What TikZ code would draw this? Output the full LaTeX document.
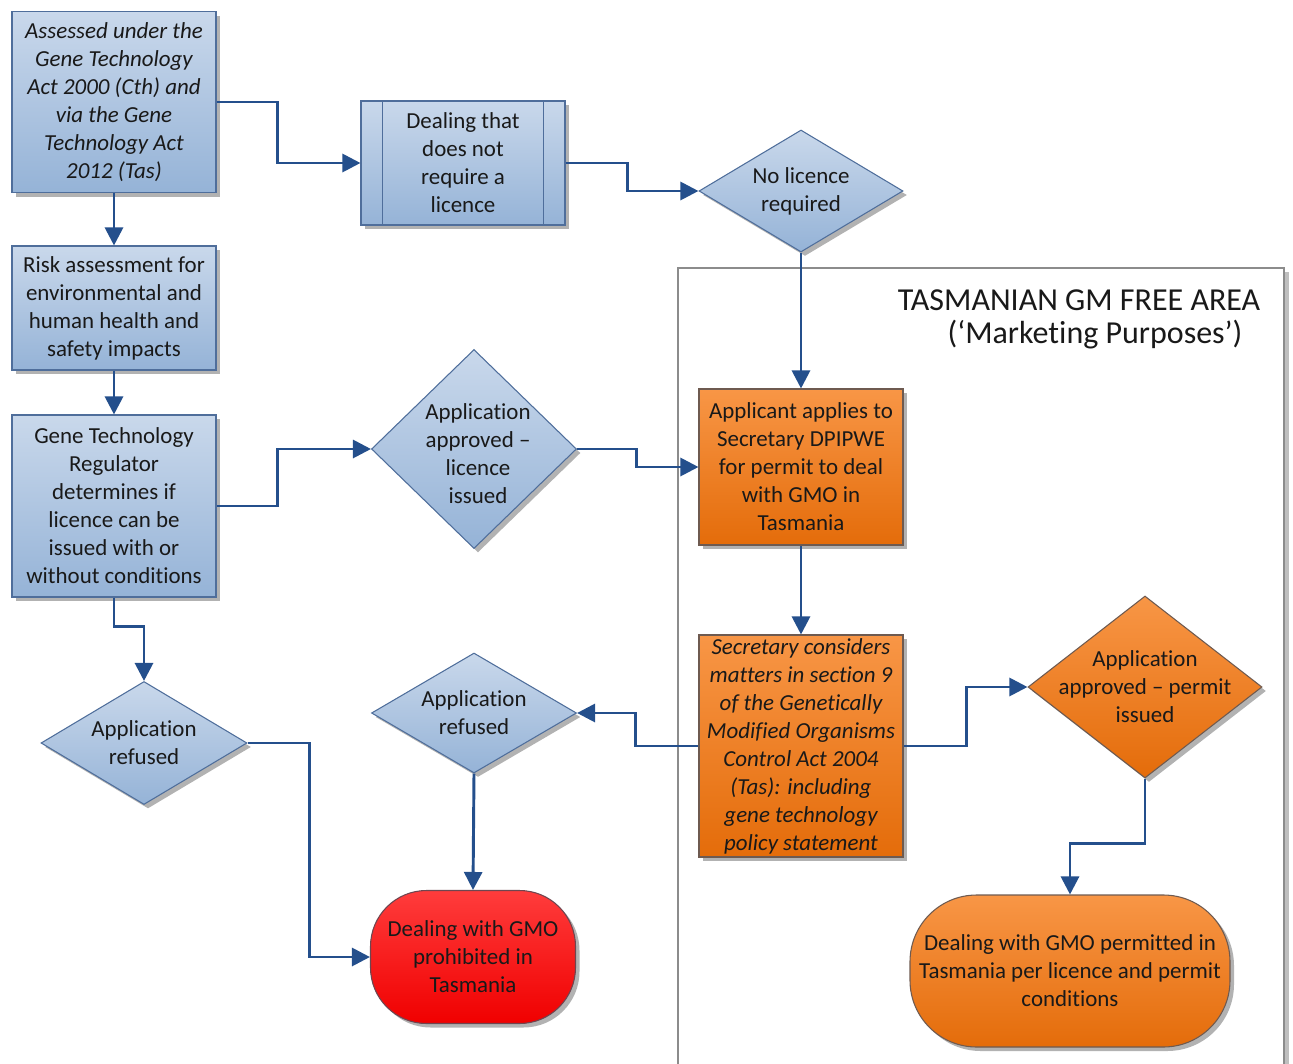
\documentclass[tikz,border=0pt]{standalone}
\usepackage{fontspec}
\setmainfont[Ligatures=NoCommon,RawFeature=-liga]{Carlito}
\usetikzlibrary{shapes.geometric,shadows,arrows.meta,calc}
\definecolor{bluetop}{RGB}{201,216,235}
\definecolor{bluebot}{RGB}{149,179,215}
\definecolor{blueborder}{RGB}{79,110,155}
\definecolor{orangetop}{RGB}{248,150,70}
\definecolor{orangebot}{RGB}{228,108,10}
\definecolor{orangeborder}{RGB}{110,90,80}
\definecolor{redtop}{RGB}{255,60,60}
\definecolor{redbot}{RGB}{240,0,0}
\definecolor{redborder}{RGB}{110,70,80}
\definecolor{arrowblue}{RGB}{36,79,140}
\definecolor{framegray}{RGB}{140,140,140}
\begin{document}
\begin{tikzpicture}[x=0.75pt,y=-0.75pt,
  shd/.style={drop shadow={shadow xshift=3pt,shadow yshift=-3pt,fill=black,opacity=0.3}},
  bluebox/.style={shape=rectangle,draw=blueborder,line width=0.8pt,top color=bluetop,bottom color=bluebot,shd,inner sep=0pt},
  bluediam/.style={shape=diamond,draw=blueborder,line width=0.8pt,top color=bluetop,bottom color=bluebot,shd,inner sep=0pt},
  orangebox/.style={shape=rectangle,draw=orangeborder,line width=0.8pt,top color=orangetop,bottom color=orangebot,shd,inner sep=0pt},
  orangediam/.style={shape=diamond,draw=orangeborder,line width=0.8pt,top color=orangetop,bottom color=orangebot,shd,inner sep=0pt},
  txt/.style={align=center,font=\fontsize{17.2}{21}\selectfont,text=black!90,inner sep=0pt},
  conn/.style={draw=arrowblue,line width=2.2pt,-{Triangle[length=13.5pt,width=13.5pt]}},
]
\useasboundingbox (0,0) rectangle (1293,1064);

% frame
\draw[black!25,line width=2.5pt] (1287,272) -- (1287,1064);
\draw[framegray,line width=0.8pt] (678,1064) -- (678,268) -- (1284,268) -- (1284,1064);
\node[txt,font=\fontsize{24}{28}\selectfont] (title1) at (1079,300) {TASMANIAN GM FREE AREA};
\node[txt,font=\fontsize{24}{28}\selectfont] (title2) at (1095,335) {(‘Marketing Purposes’)};

% left column
\node[bluebox,minimum width=204*0.75pt,minimum height=181*0.75pt] (a) at (114,102) {};
\node[txt,font=\fontsize{17.2}{21}\selectfont\itshape] (at) at (a) {Assessed under the\\Gene Technology\\Act 2000 (Cth) and\\via the Gene\\Technology Act\\2012 (Tas)};
\node[bluebox,minimum width=204*0.75pt,minimum height=124*0.75pt] (r) at (114,308) {};
\node[txt] (rt) at (r) {Risk assessment for\\environmental and\\human health and\\safety impacts};
\node[bluebox,minimum width=204*0.75pt,minimum height=182*0.75pt] (g) at (114,506) {};
\node[txt] (gt) at (g) {Gene Technology\\Regulator\\determines if\\licence can be\\issued with or\\without conditions};
\node[bluediam,minimum width=206*0.75pt,minimum height=123*0.75pt] (ar1) at (144,743) {};
\node[txt] (ar1t) at (ar1) {Application\\refused};

% process box
\node[bluebox,minimum width=204*0.75pt,minimum height=124*0.75pt] (d) at (463,163) {};
\draw[blueborder,line width=0.8pt] ($(d.north west)+(22,0)$) -- ($(d.south west)+(22,0)$);
\draw[blueborder,line width=0.8pt] ($(d.north east)+(-22,0)$) -- ($(d.south east)+(-22,0)$);
\node[txt] (dt) at (d) {Dealing that\\does not\\require a\\licence};

\node[bluediam,minimum width=204*0.75pt,minimum height=122*0.75pt] (nl) at (801,191) {};
\node[txt] (nlt) at (nl) {No licence\\required};

\node[bluediam,minimum width=205*0.75pt,minimum height=199*0.75pt] (aa) at (474,449) {};
\node[txt] (aat) at (478,454) {Application\\approved –\\licence\\issued};

\node[bluediam,minimum width=205*0.75pt,minimum height=120*0.75pt] (ar2) at (474,713) {};
\node[txt] (ar2t) at (ar2) {Application\\refused};

% orange
\node[orangebox,minimum width=204*0.75pt,minimum height=156*0.75pt] (ap) at (801,467) {};
\node[txt] (apt) at (ap) {Applicant applies to\\Secretary DPIPWE\\for permit to deal\\with GMO in\\Tasmania};
\node[orangebox,minimum width=204*0.75pt,minimum height=222*0.75pt] (sc) at (801,746) {};
\node[txt,font=\fontsize{17.2}{21}\selectfont\itshape] (sct) at (sc) {Secretary considers\\matters in section 9\\of the Genetically\\Modified Organisms\\Control Act 2004\\(Tas): including\\gene technology\\policy statement};
\node[orangediam,minimum width=234*0.75pt,minimum height=182*0.75pt] (ap2) at (1145,687) {};
\node[txt] (ap2t) at (ap2) {Application\\approved – permit\\issued};

% terminals
\node[shape=rectangle,draw=redborder,line width=0.8pt,top color=redtop,bottom color=redbot,shd,rounded corners=42pt,minimum width=205*0.75pt,minimum height=133*0.75pt] (dp) at (473,957) {};
\node[txt] (dpt) at (dp) {Dealing with GMO\\prohibited in\\Tasmania};
\node[shape=rectangle,draw=orangeborder,line width=0.8pt,top color=orangetop,bottom color=orangebot,shd,rounded corners=50pt,minimum width=320*0.75pt,minimum height=152*0.75pt] (dpm) at (1070,971) {};
\node[txt] (dpmt) at (dpm) {Dealing with GMO permitted in\\Tasmania per licence and permit\\conditions};

% connectors
\draw[conn] (a.east) -- ++(61,0) |- (d.west);
\draw[conn] (a.south) -- (r.north);
\draw[conn] (r.south) -- (g.north);
\draw[conn] (d.east) -- ++(62,0) |- (nl.west);
\draw[conn] (nl.south) -- (ap.north);
\draw[conn] (g.east) -- ++(61,0) |- (aa.west);
\draw[conn] (aa.east) -- ++(59,0) |- (ap.west);
\draw[conn] (g.south) -- ++(0,29) -| (ar1.north);
\draw[conn] (ar1.east) -- ++(62,0) |- (dp.west);
\draw[conn] (ap.south) -- (sc.north);
\draw[conn] (sc.west) -- ++(-63,0) |- (ar2.east);
\draw[conn] (ar2.south) -- (dp.north);
\draw[conn] (sc.east) -- ++(63,0) |- (ap2.west);
\draw[conn] (ap2.south) -- ++(0,65) -| (dpm.north);
\end{tikzpicture}
\end{document}
